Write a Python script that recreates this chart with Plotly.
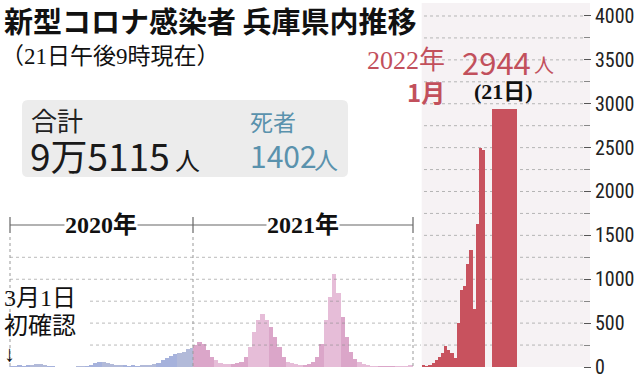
import pandas as pd
import plotly.graph_objects as go

# ---------------- data ----------------
# weekly values 2020 (weeks starting 2020-03-01)
vals_2020 = [3, 8, 12, 10, 15, 25, 30, 32, 18, 10, 4, 0, 0, 0, 0, 0, 2, 4, 8, 25,
             45, 55, 57, 45, 30, 20, 15, 12, 10, 12, 10, 12, 15, 20, 35, 50, 80, 100,
             130, 150, 160, 170, 200, 215]
# weekly values 2021 (weeks starting 2021-01-01)
vals_2021 = [250, 290, 265, 190, 115, 75, 45, 38, 30, 38, 40, 60, 115, 230, 400, 530,
             600, 530, 455, 340, 230, 115, 60, 40, 30, 28, 25, 30, 57, 115, 265, 530,
             800, 1060, 840, 570, 340, 170, 95, 57, 30, 19, 11, 11, 8, 8, 5, 5, 5, 5,
             8, 15, 20]
# daily values January 2022
days_2022 = [str(d) for d in range(1, 21)]
vals_2022 = [15, 8, 20, 40, 76, 114, 160, 236, 190, 160, 103, 506, 882, 919, 1178,
             1329, 665, 1625, 2499, 2468]
last_day = ["21"]
last_val = [2944]
y_ticks = [0, 500, 1000, 1500, 2000, 2500, 3000, 3500, 4000]

# ---------------- geometry helpers ----------------
W, H = 640, 375
L, R, T, B = 0, 57, 3, 8
PW, PH = W - L - R, H - T - B


def PX(x):
    return (x - L) / PW


def PY(y):
    return (H - B - y) / PH


DAY = 86400000


def bins(start, n, end):
    s = pd.date_range(start, periods=n, freq="7D")
    e = [min(d + pd.Timedelta(days=7), pd.Timestamp(end)) for d in s]
    w = [(b - a).days * DAY for a, b in zip(s, e)]
    return s, w


s20, w20 = bins("2020-03-01", len(vals_2020), "2021-01-01")
s21, w21 = bins("2021-01-01", len(vals_2021), "2022-01-01")

blue_a, blue_b = "#b2bad9", "#a6b2dc"
pink_a, pink_b = "#e6bdd8", "#dba6c9"
red = "#c8525e"
c20 = [blue_a if d.month % 2 == 0 else blue_b for d in s20]
c21 = [pink_a if d.month % 2 == 0 else pink_b for d in s21]

fig = go.Figure()
fig.add_trace(go.Bar(x=s20, y=vals_2020, width=w20, offset=0, marker=dict(color=c20, line_width=0),
                     xaxis="x", yaxis="y", showlegend=False))
fig.add_trace(go.Bar(x=s21, y=vals_2021, width=w21, offset=0, marker=dict(color=c21, line_width=0),
                     xaxis="x", yaxis="y", showlegend=False))
fig.add_trace(go.Bar(x=days_2022, y=vals_2022, marker=dict(color=red, line_width=0),
                     xaxis="x2", yaxis="y", showlegend=False))
fig.add_trace(go.Bar(x=last_day, y=last_val, marker=dict(color=red, line_width=0),
                     xaxis="x3", yaxis="y", showlegend=False))

shapes = []
# 2022 background
shapes.append(dict(type="rect", xref="paper", yref="paper", x0=PX(421.7), x1=PX(590),
                   y0=PY(367), y1=PY(3), fillcolor="#f6f2f4", line_width=0, layer="below"))
# grid lines
for v in range(250, 4001, 250):
    if v <= 1250:
        x0 = 10 if v >= 1000 else 90
        shapes.append(dict(type="line", xref="paper", yref="y", x0=PX(x0), x1=PX(421),
                           y0=v, y1=v, line=dict(color="rgba(140,140,140,0.6)", width=1, dash="dot"),
                           layer="above"))
    shapes.append(dict(type="line", xref="paper", yref="y", x0=PX(424), x1=PX(583),
                       y0=v, y1=v, line=dict(color="#b5b5b5", width=1, dash="dot"), layer="below"))
# year bracket
shapes.append(dict(type="line", xref="paper", yref="paper", x0=PX(10), x1=PX(413),
                   y0=PY(225), y1=PY(225), line=dict(color="#666", width=1.2)))
for xx in (10, 193, 413):
    shapes.append(dict(type="line", xref="paper", yref="paper", x0=PX(xx), x1=PX(xx),
                       y0=PY(217), y1=PY(233), line=dict(color="#666", width=1.2)))
    shapes.append(dict(type="line", xref="paper", yref="paper", x0=PX(xx), x1=PX(xx),
                       y0=PY(237), y1=PY(367), line=dict(color="#999", width=1, dash="dot")))
# summary box (rounded)
bx0, bx1, by0, by1, r = 22, 348, 100, 177, 6
path = (f"M {PX(bx0 + r)},{PY(by0)} L {PX(bx1 - r)},{PY(by0)} Q {PX(bx1)},{PY(by0)} {PX(bx1)},{PY(by0 + r)} "
        f"L {PX(bx1)},{PY(by1 - r)} Q {PX(bx1)},{PY(by1)} {PX(bx1 - r)},{PY(by1)} "
        f"L {PX(bx0 + r)},{PY(by1)} Q {PX(bx0)},{PY(by1)} {PX(bx0)},{PY(by1 - r)} "
        f"L {PX(bx0)},{PY(by0 + r)} Q {PX(bx0)},{PY(by0)} {PX(bx0 + r)},{PY(by0)} Z")
shapes.append(dict(type="path", xref="paper", yref="paper", path=path, fillcolor="#ececec",
                   line_width=0, layer="below"))

GOTH = "Noto Sans CJK JP, sans-serif"
SERIF = "Liberation Serif, Noto Sans CJK JP, serif"
blue_txt = "#5a92ad"
red_txt = "#c2505c"


def ann(text, x, y, size, color="#111", family=GOTH, xanchor="left", bg=None):
    d = dict(text=text, x=PX(x), y=PY(y), xref="paper", yref="paper", showarrow=False,
             xanchor=xanchor, yanchor="middle", borderpad=0,
             font=dict(size=size, color=color, family=family))
    if bg:
        d["bgcolor"] = bg
    return d


annotations = [
    ann("<b>新型コロナ感染者 兵庫県内推移</b>", 3, 20, 29),
    ann("（21日午後9時現在）", 0, 56, 23, family=SERIF),
    ann("2022年", 446, 60, 26, color=red_txt, family=SERIF, xanchor="right"),
    ann("<b>1月</b>", 446, 91, 24, color=red_txt, xanchor="right"),
    ann("2944", 461, 62, 31, color=red_txt),
    ann("人", 533, 65, 20, color=red_txt),
    ann("<b>(21日)</b>", 503, 91, 22, color="#111", family=SERIF, xanchor="center"),
    ann("合計", 30, 120, 26, color="#222"),
    ann("9万5115", 29, 155, 37, color="#1a1a1a"),
    ann("人", 174, 159, 25, color="#1a1a1a"),
    ann("死者", 249, 121, 23, color=blue_txt),
    ann("1402", 249, 155, 30, color=blue_txt),
    ann("人", 313, 158, 24, color=blue_txt),
    ann("<b>2020年</b>", 101, 225, 24, family=SERIF, xanchor="center", bg="white"),
    ann("<b>2021年</b>", 303, 225, 24, family=SERIF, xanchor="center", bg="white"),
    ann("3月1日", 3, 298, 24, family=SERIF),
    ann("初確認", 3, 326, 24, family=SERIF),
    ann("↓", 3, 353, 22, family=SERIF),
]

fig.update_layout(
    width=W, height=H, margin=dict(l=L, r=R, t=T, b=B, autoexpand=False),
    paper_bgcolor="white", plot_bgcolor="rgba(0,0,0,0)",
    bargap=0, barmode="overlay",
    xaxis=dict(type="date", domain=[PX(9.3), PX(413)], range=["2020-03-01", "2022-01-01"],
               visible=False, anchor="y"),
    xaxis2=dict(type="category", domain=[PX(421.7), PX(485)], visible=False, anchor="y"),
    xaxis3=dict(type="category", domain=[PX(492), PX(517)], visible=False, anchor="y"),
    yaxis=dict(range=[0, 4148], side="right", anchor="free", position=1, showgrid=False,
               zeroline=False, showline=False, tickvals=y_ticks, ticks="outside", ticklen=7,
               tickcolor="#555", tickwidth=1.2, automargin=False, ticklabeloverflow="allow",
               minor=dict(dtick=250, tick0=0, ticks="outside", ticklen=6, tickcolor="#888", showgrid=False),
               tickfont=dict(size=20, color="#222",
                             family="Liberation Sans Narrow, Arial Narrow, Roboto Condensed, Liberation Sans, sans-serif")),
    shapes=shapes, annotations=annotations,
)

fig.write_html("out.html", config={"displayModeBar": False},
               post_script="document.body.style.margin='0px';document.body.style.overflow='hidden';")
